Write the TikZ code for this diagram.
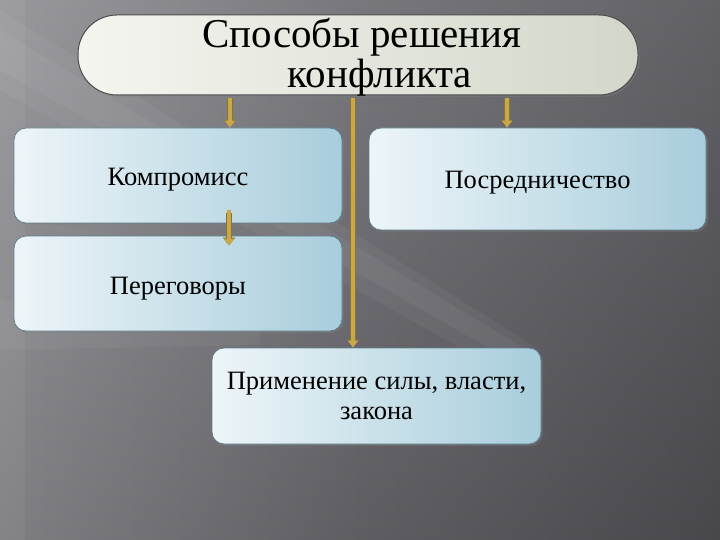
\documentclass[tikz,border=0pt]{standalone}
\usepackage{fontspec}
\setmainfont{Liberation Serif}
\usetikzlibrary{arrows.meta,calc,shadows}
\definecolor{bgL}{HTML}{8E8D92}
\definecolor{bgM}{HTML}{69686E}
\definecolor{bgR}{HTML}{505055}
\definecolor{boxL}{HTML}{EDF5F8}
\definecolor{boxR}{HTML}{A8CDDC}
\definecolor{boxline}{HTML}{5F7F8C}
\definecolor{titleL}{HTML}{F4F5EF}
\definecolor{titleR}{HTML}{D3D7CA}
\definecolor{gold}{HTML}{C9A84C}
\definecolor{goldD}{HTML}{8A7433}
\tikzset{
  box/.style={draw=boxline, line width=0.8pt, rounded corners=12pt,
    left color=boxL, right color=boxR, inner sep=0pt,
    font=\fontsize{26.5}{30}\selectfont,
    drop shadow={shadow xshift=2pt, shadow yshift=-2pt, opacity=0.35}},
  onebox/.style={box, text height=21pt, text depth=0pt},
  titlebox/.style={draw=black!70, line width=1pt, rounded corners=39pt,
    left color=titleL, right color=titleR, inner sep=0pt,
    minimum width=560pt, minimum height=80pt,
    drop shadow={shadow xshift=2pt, shadow yshift=-2pt, opacity=0.35}},
  titletext/.style={align=center, inner sep=0pt, font=\fontsize{41}{40}\selectfont},
  garrow/.style={draw=gold, line width=4.5pt, shorten <=3pt,
    -{Triangle[width=10pt,length=7pt]},
    preaction={draw=goldD, line width=6pt, shorten <=3pt, -{Triangle[width=12pt,length=8pt]}}},
  streak/.style={fill=white, opacity=0.045}
}
\begin{document}
\begin{tikzpicture}[x=1pt,y=-1pt]
\useasboundingbox (0,0) rectangle (720,540);
\shade[left color=bgL, right color=bgR, middle color=bgM] (0,0) rectangle (720,540);
\shade[top color=white, bottom color=black, opacity=0.10] (0,0) rectangle (720,540);
\fill[streak] (0,10) -- (0,90) -- (500,370) -- (540,350) -- cycle;
\fill[streak] (0,30) -- (0,70) -- (510,360) -- (530,352) -- cycle;
\fill[streak] (0,300) -- (0,350) -- (260,345) -- (260,330) -- cycle;
\fill[streak] (0,0) rectangle (25,540);

\node[onebox, minimum width=328pt, minimum height=95pt] (komp) at (178,175.5) {Компромисс};
\node[onebox, minimum width=328pt, minimum height=95pt] (pereg) at (178,283.5) {Переговоры};
\node[onebox, minimum width=337pt, minimum height=102pt, text height=19pt] (posr) at (537.5,179) {Посредничество};
\node[box, align=center, minimum width=329pt, minimum height=96pt] (prim) at (376.5,396) {Применение силы, власти,\\закона};

\node[titlebox] (title) at (358,55) {};

\coordinate (a1) at ($(komp.north)+(52,0)$);
\coordinate (a2) at ($(posr.north)+(-30.5,0)$);
\coordinate (a3) at ($(prim.north)+(-23.5,0)$);
\coordinate (s1) at ($(komp.south)+(51,-13)$);
\coordinate (s2) at ($(pereg.north)+(51,10)$);

\draw[garrow] (a1 |- title.south) -- (a1);
\draw[garrow] (a2 |- title.south) -- (a2);
\draw[garrow] (a3 |- title.south) -- (a3);
\draw[garrow, shorten <=0pt] (s1) -- (s2);

\node[titletext] (tt) at (362,57) {Способы решения\\\hspace*{36pt}конфликта};
\end{tikzpicture}
\end{document}
